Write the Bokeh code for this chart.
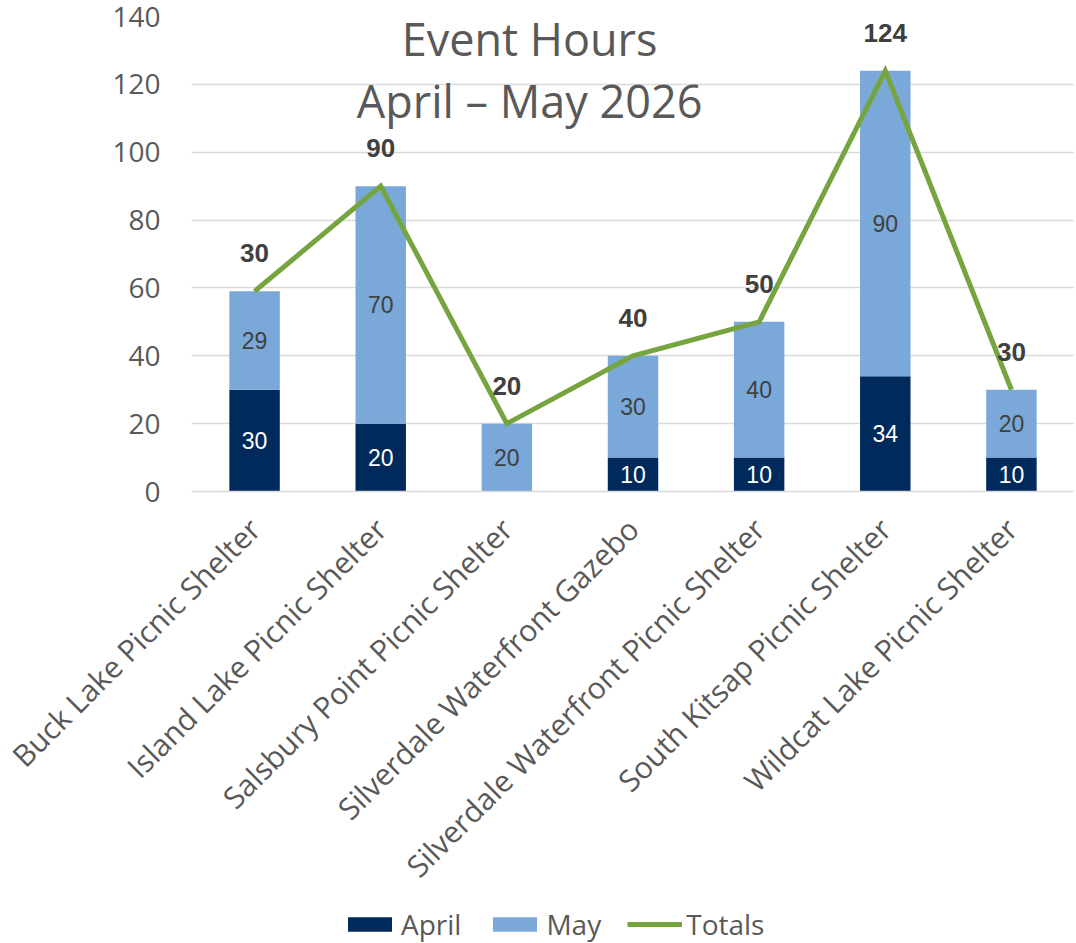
import math
from bokeh.plotting import figure
from bokeh.layouts import column
from bokeh.models import ColumnDataSource, FactorRange, Range1d, Legend, LegendItem
from bokeh.core.properties import value
from bokeh.embed import file_html
from bokeh.resources import INLINE

categories = ["Buck Lake Picnic Shelter", "Island Lake Picnic Shelter", "Salsbury Point Picnic Shelter",
              "Silverdale Waterfront Gazebo", "Silverdale Waterfront Picnic Shelter",
              "South Kitsap Picnic Shelter", "Wildcat Lake Picnic Shelter"]
april = [30, 20, 0, 10, 10, 34, 10]
may = [29, 70, 20, 30, 40, 90, 20]
totals = [59, 90, 20, 40, 50, 124, 30]
total_labels = ["30", "90", "20", "40", "50", "124", "30"]
title_lines = ["Event Hours", "April \u2013 May 2026"]
series_names = ["April", "May", "Totals"]

AX_FONT = "Open Sans"
LBL_FONT = "Liberation Sans"
GRAY = "#595959"
DARK = "#404040"
C_APR = "#002A5C"
C_MAY = "#79A8D9"
C_TOT = "#76A540"

p = figure(x_range=FactorRange(factors=categories, range_padding=0), y_range=Range1d(0, 140),
           width=1074, height=903, output_backend="svg", toolbar_location=None,
           min_border_left=191, min_border_top=16, min_border_right=0, min_border_bottom=412)
p.outline_line_color = None
p.background_fill_color = "white"

src = ColumnDataSource(dict(cat=categories, April=april, May=may))
r_bars = p.vbar_stack(["April", "May"], x="cat", width=0.4, source=src, color=[C_APR, C_MAY], line_color=None)

r_line = p.line(x=categories, y=totals, line_color=C_TOT, line_width=5, line_join="miter")

# segment labels
apr_x = [c for c, a in zip(categories, april) if a > 0]
apr_y = [a / 2 for a in april if a > 0]
apr_t = [str(a) for a in april if a > 0]
p.text(x=apr_x, y=apr_y, text=apr_t, text_color="white", text_font=value(LBL_FONT), text_font_size="23px",
       text_align="center", text_baseline="middle")
may_x = [c for c, m in zip(categories, may) if m > 0]
may_y = [a + m / 2 for a, m in zip(april, may) if m > 0]
may_t = [str(m) for m in may if m > 0]
p.text(x=may_x, y=may_y, text=may_t, text_color=DARK, text_font=value(LBL_FONT), text_font_size="23px",
       text_align="center", text_baseline="middle")
p.text(x=categories, y=totals, text=total_labels, text_color=DARK, text_font=value(LBL_FONT),
       text_font_size="26px", text_font_style="bold", text_align="center", text_baseline="middle", y_offset=-38)

# title inside the plot (synthetic categorical x coordinate)
p.text(x=[2.68, 2.68], y=[133.5, 115.2], text=title_lines, text_color=GRAY, text_font=value(AX_FONT),
       text_font_size="45px", text_align="center", text_baseline="middle")

p.ygrid.grid_line_color = "#D9D9D9"
p.ygrid.grid_line_width = 1.5
p.xgrid.grid_line_color = None

p.yaxis.ticker = [0, 20, 40, 60, 80, 100, 120, 140]
p.yaxis.axis_line_color = None
p.yaxis.major_tick_line_color = None
p.yaxis.minor_tick_line_color = None
p.yaxis.major_label_text_font = AX_FONT
p.yaxis.major_label_text_font_size = "28px"
p.yaxis.major_label_text_color = GRAY
p.yaxis.major_label_standoff = 25

p.xaxis.axis_line_color = "#D9D9D9"
p.xaxis.axis_line_width = 1.5
p.xaxis.major_tick_line_color = None
p.xaxis.minor_tick_line_color = None
p.xaxis.major_label_text_font = AX_FONT
p.xaxis.major_label_text_font_size = "30px"
p.xaxis.major_label_text_color = GRAY
p.xaxis.major_label_orientation = math.pi / 4
p.xaxis.major_label_standoff = 26

# legend strip (separate small figure; its sample glyphs sit outside its visible range)
lg = figure(width=1074, height=40, output_backend="svg", toolbar_location=None,
            x_range=Range1d(0, 1), y_range=Range1d(0, 1), min_border=0)
lg.axis.visible = False
lg.grid.visible = False
lg.outline_line_color = None
s_apr = lg.vbar(x=[-5], top=[-5], bottom=[-6], width=0.1, color=C_APR, line_color=None)
s_may = lg.vbar(x=[-5], top=[-5], bottom=[-6], width=0.1, color=C_MAY, line_color=None)
s_tot = lg.line(x=[-6, -5], y=[-5, -5], line_color=C_TOT, line_width=5)
legend = Legend(items=[LegendItem(label=n, renderers=[r]) for n, r in zip(series_names, [s_apr, s_may, s_tot])],
                orientation="horizontal", location=(151, 0),
                label_text_font=AX_FONT, label_text_font_size="28px", label_text_color=GRAY,
                glyph_width=55, glyph_height=18, spacing=26, label_standoff=4,
                border_line_color=None, background_fill_alpha=0, margin=0, padding=0)
lg.add_layout(legend, "center")

layout = column(p, lg, spacing=0)
open("out.html", "w").write(file_html(layout, INLINE))
